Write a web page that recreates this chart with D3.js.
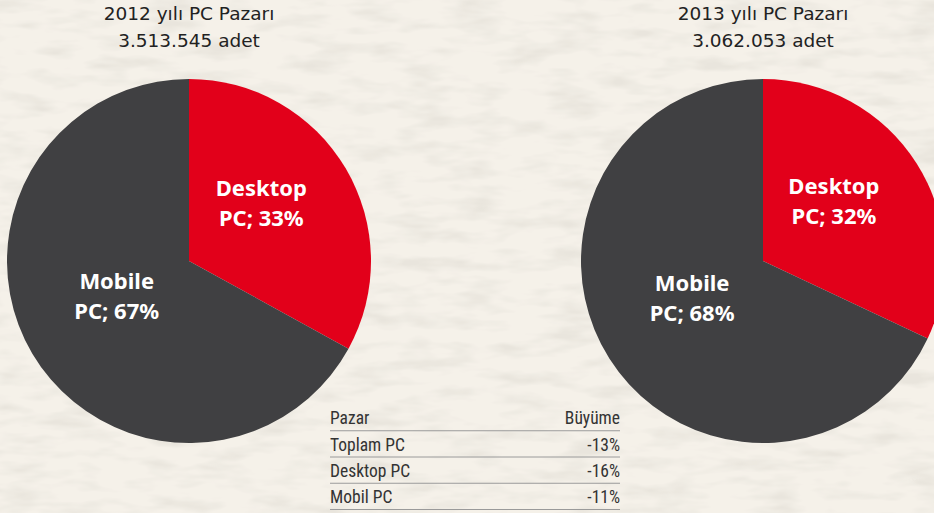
<!DOCTYPE html>
<html><head><meta charset="utf-8">
<script src="https://cdn.jsdelivr.net/npm/d3@7/dist/d3.min.js"></script>
<style>
html,body{margin:0;padding:0;background:#f2ede4;overflow:hidden}
svg{display:block}
</style></head>
<body>
<script>
const years = ["2012", "2013"];
const totals = ["3.513.545", "3.062.053"];
const segments = ["Desktop", "Mobile"];
const share2012 = [33, 67];
const share2013 = [32, 68];
const tableHeader = ["Pazar", "Büyüme"];
const tableRows = ["Toplam PC", "Desktop PC", "Mobil PC"];
const tableGrowth = ["-13%", "-16%", "-11%"];

const W = 934, H = 513;
const colors = {Desktop: "#e2001a", Mobile: "#404042"};
const svg = d3.select("body").append("svg").attr("width", W).attr("height", H);

// textured paper background
const defs = svg.append("defs");
const f = defs.append("filter").attr("id", "paper").attr("x", 0).attr("y", 0).attr("width", "100%").attr("height", "100%");
f.append("feTurbulence").attr("type", "fractalNoise").attr("baseFrequency", "0.02 0.07").attr("numOctaves", 3).attr("seed", 4).attr("result", "n");
f.append("feColorMatrix").attr("in", "n").attr("type", "matrix")
  .attr("values", "0 0 0 0 0.81  0 0 0 0 0.78  0 0 0 0 0.72  2.6 0 0 0 -1.15").attr("result", "m");
f.append("feComposite").attr("in", "m").attr("in2", "SourceGraphic").attr("operator", "over");
svg.append("rect").attr("width", W).attr("height", H).attr("fill", "#f5f1e9").attr("filter", "url(#paper)");

const R = 182;
const pies = [
  {year: years[0], total: totals[0], values: share2012, cx: 189, cy: 261},
  {year: years[1], total: totals[1], values: share2013, cx: 763, cy: 261}
];
const pie = d3.pie().sort(null).value(d => d.v);
const arc = d3.arc().innerRadius(0).outerRadius(R);
const titleFont = "'DejaVu Sans', 'Noto Sans', sans-serif";
const labelFont = "'Noto Sans', 'DejaVu Sans', sans-serif";

pies.forEach(p => {
  const data = segments.map((s, i) => ({s, v: p.values[i]}));
  const g = svg.append("g").attr("transform", `translate(${p.cx},${p.cy})`);
  const arcs = pie(data);
  g.selectAll("path").data(arcs).join("path").attr("d", arc).attr("fill", d => colors[d.data.s]);
  const labelArc = d3.arc().innerRadius(84).outerRadius(84);
  arcs.forEach(a => {
    const [x, y] = labelArc.centroid(a);
    const y1 = y + (y < 0 ? -22 : -15);
    const t = g.append("text").attr("text-anchor", "middle").attr("fill", "#fff")
      .attr("font-family", labelFont).attr("font-weight", "bold").attr("font-size", 22);
    t.append("tspan").attr("x", x).attr("y", y1).text(a.data.s);
    t.append("tspan").attr("x", x).attr("y", y1 + 30).text(`PC; ${a.data.v}%`);
  });
  const tt = svg.append("text").attr("text-anchor", "middle").attr("fill", "#222")
    .attr("font-family", titleFont).attr("font-size", 18.5);
  tt.append("tspan").attr("x", p.cx).attr("y", 20).text(`${p.year} yılı PC Pazarı`);
  tt.append("tspan").attr("x", p.cx).attr("y", 46.5).text(`${p.total} adet`);
});

// table
const tx0 = 330, tx1 = 620;
const tFont = "'Liberation Sans Narrow', 'Roboto Condensed', 'Liberation Sans', sans-serif";
const ty = d3.scaleBand().domain(["h", ...tableRows]).range([405, 510]);
const tg = svg.append("g").attr("font-family", tFont).attr("font-size", 17.5).attr("fill", "#333");
const rows = [{a: tableHeader[0], b: tableHeader[1], k: "h"}].concat(tableRows.map((r, i) => ({a: r, b: tableGrowth[i], k: r})));
rows.forEach(r => {
  const y0 = ty(r.k), bw = ty.bandwidth();
  tg.append("text").attr("x", tx0).attr("y", y0 + bw - 7).text(r.a);
  tg.append("text").attr("x", tx1).attr("y", y0 + bw - 7).attr("text-anchor", "end").text(r.b);
  tg.append("line").attr("x1", tx0).attr("x2", tx1).attr("y1", y0 + bw - 0.5).attr("y2", y0 + bw - 0.5)
    .attr("stroke", "#9a9a9a").attr("stroke-width", 1);
});
</script>
</body></html>
